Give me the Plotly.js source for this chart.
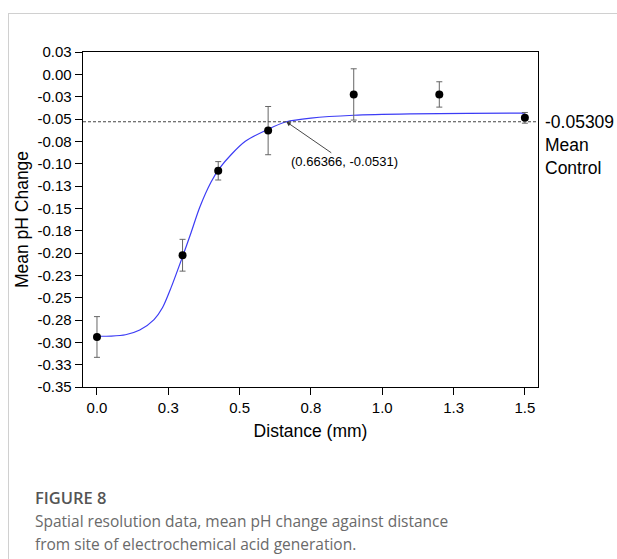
<!DOCTYPE html>
<html>
<head>
<meta charset="utf-8">
<script src="https://cdn.plot.ly/plotly-3.0.1.min.js"></script>
<style>
  html, body { margin: 0; padding: 0; background: #fff; }
  #wrap { position: relative; width: 617px; height: 559px; overflow: hidden; }
  #frame { position: absolute; left: 8px; top: 13px; width: 640px; height: 600px;
           border-top: 1px solid #d0d0d0; border-left: 1px solid #d0d0d0; }
  #chart { position: absolute; left: 0; top: 0; width: 617px; height: 559px; }
  #cap { position: absolute; left: 35px; top: 486px; font-family: "Open Sans", "Noto Sans", sans-serif;
         color: #6a6a6a; font-size: 15.5px; line-height: 23px; }
  #cap b { color: #555; font-weight: 600; font-size: 16.5px; display: block; margin-bottom: 1px; }
</style>
</head>
<body>
<div id="wrap">
  <div id="frame"></div>
  <div id="chart"></div>
  <div id="cap"><b>FIGURE 8</b>Spatial resolution data, mean pH change against distance<br>from site of electrochemical acid generation.</div>
</div>
<script>
// Measured data (mean pH change vs distance)
const distance = [0.0, 0.3, 0.425, 0.6, 0.9, 1.2, 1.5];
const meanPH   = [-0.294, -0.2025, -0.108, -0.063, -0.0225, -0.0225, -0.0487];
const errPH    = [0.0228, 0.0178, 0.0103, 0.027, 0.0287, 0.0142, 0.006];

// Fitted curve
const fitX = [0, 0.05, 0.1, 0.15, 0.2, 0.23, 0.26, 0.3, 0.33, 0.36, 0.4, 0.43, 0.47, 0.52, 0.6, 0.66366, 0.75, 0.9, 1.1, 1.3, 1.5];
const fitY = [-0.2932, -0.2930, -0.2915, -0.2862, -0.2745, -0.2610, -0.2385, -0.2040, -0.1770, -0.1490, -0.1205, -0.1050, -0.0900, -0.0750, -0.0614, -0.0531, -0.0490, -0.0458, -0.0443, -0.0437, -0.0434];

const meanControl = -0.05309;
const crossPoint = [0.66366, -0.0531];

const xTickVals = [0, 0.25, 0.5, 0.75, 1.0, 1.25, 1.5];
const xTickText = ["0.0", "0.3", "0.5", "0.8", "1.0", "1.3", "1.5"];
const yTickVals = [0.025, 0, -0.025, -0.05, -0.075, -0.1, -0.125, -0.15, -0.175, -0.2, -0.225, -0.25, -0.275, -0.3, -0.325, -0.35];
const yTickText = ["0.03", "0.00", "-0.03", "-0.05", "-0.08", "-0.10", "-0.13", "-0.15", "-0.18", "-0.20", "-0.23", "-0.25", "-0.28", "-0.30", "-0.33", "-0.35"];

const FONT = "Arial, 'Liberation Sans', sans-serif";

const traces = [
  {
    x: fitX, y: fitY, type: 'scatter', mode: 'lines',
    line: { color: '#3c3cf5', width: 1.2, shape: 'spline', smoothing: 0.8 },
    hoverinfo: 'skip', showlegend: false
  },
  {
    x: distance, y: meanPH, type: 'scatter', mode: 'markers',
    marker: { color: '#000', size: 8 },
    error_y: { type: 'data', array: errPH, visible: true, color: '#666', thickness: 1, width: 3 },
    showlegend: false
  }
];

const layout = {
  width: 617, height: 559,
  margin: { l: 83, r: 79, t: 52, b: 172, pad: 0 },
  paper_bgcolor: 'rgba(0,0,0,0)', plot_bgcolor: '#fff',
  font: { family: FONT, color: '#000', size: 15 },
  showlegend: false,
  xaxis: {
    range: [-0.049, 1.546], tickvals: xTickVals, ticktext: xTickText,
    ticks: 'outside', ticklen: 7, tickwidth: 1, tickcolor: '#000',
    showline: true, linecolor: '#000', linewidth: 1.3, mirror: true,
    showgrid: false, zeroline: false,
    tickfont: { family: FONT, size: 15 },
    title: { text: 'Distance (mm)', font: { family: FONT, size: 17.5 }, standoff: 9 }
  },
  yaxis: {
    range: [-0.35, 0.025], tickvals: yTickVals, ticktext: yTickText,
    ticks: 'outside', ticklen: 7, tickwidth: 1, tickcolor: '#000',
    showline: true, linecolor: '#000', linewidth: 1.3, mirror: true,
    showgrid: false, zeroline: false,
    tickfont: { family: FONT, size: 15 },
    title: { text: 'Mean pH Change', font: { family: FONT, size: 17.5 }, standoff: 4 }
  },
  shapes: [
    { type: 'line', xref: 'paper', yref: 'y', x0: 0, x1: 1, y0: meanControl, y1: meanControl,
      line: { color: '#444', width: 1, dash: '3px,2px' } }
  ],
  annotations: [
    { x: crossPoint[0], y: crossPoint[1], xref: 'x', yref: 'y',
      text: '(' + crossPoint[0] + ', ' + crossPoint[1] + ')',
      showarrow: true, arrowhead: 2, arrowsize: 1, arrowwidth: 0.9, arrowcolor: '#333',
      ax: 58, ay: 40, font: { family: FONT, size: 13, color: '#000' } },
    { xref: 'paper', yref: 'y', x: 1.01, y: meanControl, xanchor: 'left', yanchor: 'middle',
      text: String(meanControl), showarrow: false, font: { family: FONT, size: 17.5 } },
    { xref: 'paper', yref: 'y', x: 1.01, y: meanControl, xanchor: 'left', yanchor: 'top', yshift: -11,
      align: 'left', text: 'Mean<br>Control', showarrow: false, font: { family: FONT, size: 17.5 } }
  ]
};

Plotly.newPlot('chart', traces, layout, { displayModeBar: false, staticPlot: true });
</script>
</body>
</html>
